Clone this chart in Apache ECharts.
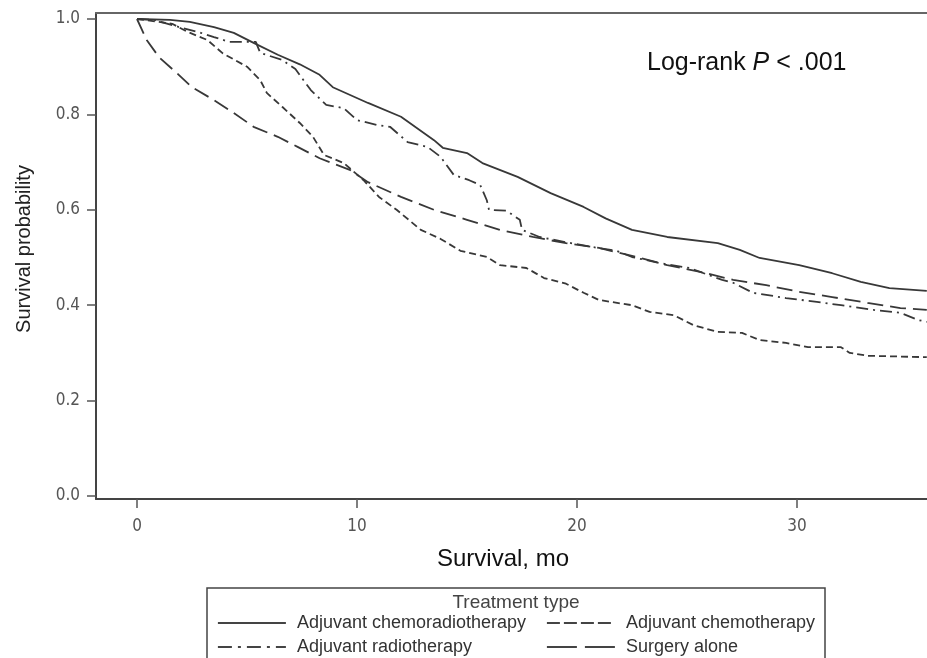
<!DOCTYPE html>
<html>
<head>
<meta charset="utf-8">
<script src="https://cdn.jsdelivr.net/npm/echarts@6/dist/echarts.min.js"></script>
<style>
  html, body { margin: 0; padding: 0; background: #fff; }
  #chart { width: 927px; height: 658px; }
</style>
</head>
<body>
<div id="chart"></div>
<script>
// Kaplan-Meier curves (months, survival probability)
const chemoradioMonths = [0, 1.5, 2.4, 3.5, 4.4, 5.3, 6.4, 7.4, 8.3, 8.9, 10.5, 12.0, 13.5, 13.9, 15.0, 15.7, 17.3, 18.8, 20.3, 21.3, 22.5, 24.1, 26.4, 27.4, 28.3, 30.1, 31.6, 32.9, 34.2, 35.9];
const chemoradioSurv = [1.0, 0.998, 0.994, 0.983, 0.971, 0.950, 0.925, 0.905, 0.883, 0.857, 0.824, 0.795, 0.746, 0.730, 0.719, 0.698, 0.669, 0.635, 0.606, 0.582, 0.558, 0.543, 0.530, 0.516, 0.499, 0.484, 0.467, 0.449, 0.436, 0.430];

const chemoMonths = [0, 1.6, 2.3, 3.2, 3.9, 5.0, 5.6, 5.9, 6.6, 7.4, 8.0, 8.5, 9.4, 10.3, 11.0, 11.8, 12.9, 13.8, 14.7, 15.9, 16.5, 17.7, 18.5, 19.5, 20.3, 21.0, 22.5, 23.3, 24.4, 25.3, 26.4, 27.5, 28.3, 29.5, 30.5, 32.0, 32.4, 33.2, 35.9];
const chemoSurv = [1.0, 0.990, 0.973, 0.956, 0.928, 0.900, 0.872, 0.845, 0.816, 0.782, 0.753, 0.715, 0.698, 0.662, 0.627, 0.600, 0.558, 0.539, 0.514, 0.501, 0.484, 0.478, 0.457, 0.445, 0.426, 0.411, 0.400, 0.386, 0.379, 0.358, 0.344, 0.342, 0.327, 0.321, 0.312, 0.312, 0.300, 0.294, 0.291];

const radioMonths = [0, 0.8, 1.6, 2.9, 3.5, 4.2, 5.4, 5.6, 6.6, 7.2, 7.5, 7.9, 8.6, 9.4, 10.0, 10.9, 11.5, 12.3, 13.2, 13.8, 14.4, 15.1, 15.6, 15.9, 16.0, 16.8, 17.4, 17.5, 18.3, 19.5, 20.7, 21.8, 22.5, 23.8, 25.1, 26.6, 27.1, 28.0, 29.5, 30.9, 32.0, 33.5, 34.7, 35.5, 35.9];
const radioSurv = [1.0, 0.998, 0.987, 0.971, 0.962, 0.952, 0.952, 0.929, 0.914, 0.895, 0.876, 0.851, 0.820, 0.813, 0.788, 0.778, 0.774, 0.742, 0.732, 0.711, 0.673, 0.662, 0.652, 0.620, 0.600, 0.598, 0.579, 0.558, 0.543, 0.532, 0.522, 0.514, 0.501, 0.488, 0.478, 0.453, 0.447, 0.426, 0.415, 0.407, 0.400, 0.390, 0.384, 0.369, 0.365];

const surgeryMonths = [0, 0.44, 1.0, 1.8, 2.5, 3.5, 4.4, 5.3, 6.4, 7.3, 8.3, 9.7, 10.5, 12.0, 13.5, 15.0, 16.5, 18.0, 19.5, 21.0, 22.9, 24.1, 25.6, 27.1, 28.6, 30.1, 31.6, 33.2, 34.7, 35.9];
const surgerySurv = [1.0, 0.956, 0.920, 0.887, 0.857, 0.830, 0.803, 0.774, 0.753, 0.732, 0.708, 0.683, 0.658, 0.627, 0.600, 0.579, 0.558, 0.543, 0.530, 0.520, 0.499, 0.484, 0.470, 0.453, 0.442, 0.428, 0.417, 0.405, 0.394, 0.390];

const seriesNames = ['Adjuvant chemoradiotherapy', 'Adjuvant chemotherapy', 'Adjuvant radiotherapy', 'Surgery alone'];
const xTicks = [0, 10, 20, 30];
const yTicks = [0, 0.2, 0.4, 0.6, 0.8, 1.0];

function pairs(xs, ys) {
  return xs.map((x, i) => [x, ys[i]]);
}

const chart = echarts.init(document.getElementById('chart'));
const lineColor = '#383838';
const tickFont = "'DejaVu Sans Condensed', 'Liberation Sans Narrow', sans-serif";
const textFont = "'Liberation Sans', Arial, sans-serif";

function kmSeries(name, xs, ys, dash) {
  return {
    name: name,
    type: 'line',
    symbol: 'none',
    animation: false,
    data: pairs(xs, ys),
    lineStyle: { color: lineColor, width: 1.8, type: dash },
    itemStyle: { color: lineColor }
  };
}

// legend samples use longer dashes, as in the original key
function legendItem(name, dash) {
  return { name: name, lineStyle: { type: dash, width: 1.8, color: '#444' } };
}

const legendBase = {
  orient: 'vertical',
  top: 614,
  itemWidth: 68,
  itemHeight: 14,
  itemGap: 6,
  padding: 0,
  itemStyle: { opacity: 0, borderWidth: 0 },
  textStyle: { fontFamily: textFont, fontSize: 18, color: '#333', lineHeight: 18, padding: [0, 0, 0, 6] }
};

const option = {
  backgroundColor: '#fff',
  animation: false,
  title: [
    {
      text: 'Log-rank {i|P} < .001',
      left: 647,
      top: 51,
      padding: 0,
      textStyle: {
        fontFamily: textFont, fontSize: 25, fontWeight: 'normal', color: '#111',
        rich: { i: { fontFamily: textFont, fontSize: 25, fontStyle: 'italic', color: '#111' } }
      }
    },
    {
      text: 'Treatment type',
      left: 516,
      top: 593,
      textAlign: 'center',
      padding: 0,
      textStyle: { fontFamily: textFont, fontSize: 19, fontWeight: 'normal', color: '#444' }
    }
  ],
  grid: { left: 96, right: 0, top: 13, bottom: 159, containLabel: false },
  xAxis: [
    {
      type: 'value',
      min: -1.8636,
      max: 35.909,
      position: 'bottom',
      name: 'Survival, mo',
      nameLocation: 'middle',
      nameGap: 48,
      nameTextStyle: { fontFamily: textFont, fontSize: 24, color: '#111', padding: [0, 17, 0, 0] },
      axisLine: { show: true, onZero: false, lineStyle: { color: '#444', width: 2 } },
      axisTick: { show: true, length: 9, customValues: xTicks, lineStyle: { color: '#555', width: 1.5 } },
      axisLabel: { customValues: xTicks, margin: 19, fontFamily: tickFont, fontSize: 17, color: '#555' },
      splitLine: { show: false }
    },
    {
      type: 'value',
      min: -1.8636,
      max: 35.909,
      position: 'top',
      axisLine: { show: true, onZero: false, lineStyle: { color: '#666', width: 2 } },
      axisTick: { show: false },
      axisLabel: { show: false },
      splitLine: { show: false }
    }
  ],
  yAxis: {
    type: 'value',
    min: -0.00629,
    max: 1.01258,
    name: 'Survival probability',
    nameLocation: 'middle',
    nameGap: 62,
    nameTextStyle: { fontFamily: textFont, fontSize: 20, color: '#222', padding: [0, 0, 0, 14] },
    axisLine: { show: true, onZero: false, lineStyle: { color: '#444', width: 2 } },
    axisTick: { show: true, length: 9, customValues: yTicks, lineStyle: { color: '#555', width: 1.5 } },
    axisLabel: {
      customValues: yTicks, margin: 16, fontFamily: tickFont, fontSize: 17, color: '#555',
      formatter: v => v.toFixed(1)
    },
    splitLine: { show: false }
  },
  legend: [
    Object.assign({}, legendBase, {
      left: 217,
      data: [legendItem(seriesNames[0], 'solid'), legendItem(seriesNames[2], [14, 6, 3, 6])]
    }),
    Object.assign({}, legendBase, {
      left: 546,
      data: [legendItem(seriesNames[1], [13, 4]), legendItem(seriesNames[3], [30, 8])]
    })
  ],
  graphic: [
    {
      type: 'rect',
      shape: { x: 207, y: 588, width: 618, height: 120 },
      style: { fill: 'none', stroke: '#444', lineWidth: 1.5 },
      silent: true
    }
  ],
  series: [
    kmSeries(seriesNames[0], chemoradioMonths, chemoradioSurv, 'solid'),
    kmSeries(seriesNames[1], chemoMonths, chemoSurv, [7, 4]),
    kmSeries(seriesNames[2], radioMonths, radioSurv, [12, 5, 2, 5]),
    kmSeries(seriesNames[3], surgeryMonths, surgerySurv, [16, 7])
  ]
};

chart.setOption(option);
</script>
</body>
</html>
